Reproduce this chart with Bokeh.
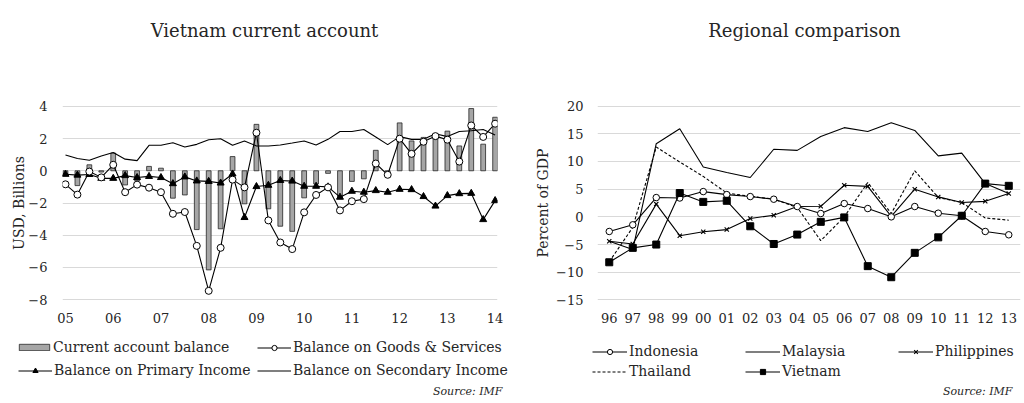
from bokeh.plotting import figure
from bokeh.models import Range1d, FactorRange, FixedTicker, Legend, LegendItem, Label
from bokeh.layouts import row, column
from bokeh.embed import file_html
from bokeh.resources import INLINE

FONT = "DejaVu Serif"
TEXT = "#262626"
NAN = float("nan")

# ---------------- Left chart data (quarterly, 2005Q1 .. 2014Q1) ----------------
quarters = list(range(37))
year_labels = ["05", "06", "07", "08", "09", "10", "11", "12", "13", "14"]
year_ticks = [4 * i for i in range(len(year_labels))]

current_account = [-0.3, -0.92, 0.37, -0.08, 1.1, -0.88, -0.62, 0.27, 0.16, -1.7,
                   -1.5, -3.65, -6.15, -3.6, 0.88, -2.05, 2.88, -2.36, -3.44, -3.76,
                   -1.68, -0.82, -0.16, -1.65, -0.66, -0.5, 1.27, -0.12, 2.97, 1.85,
                   2.07, 2.26, 2.46, 1.54, 3.86, 1.65, 3.32]
goods_services = [-0.84, -1.48, -0.05, -0.41, 0.37, -1.33, -0.86, -1.05, -1.33, -2.67,
                  -2.56, -4.66, -7.45, -4.78, -0.55, -1.03, 2.36, -3.08, -4.45, -4.86,
                  -2.58, -1.5, -1.03, -2.46, -1.89, -1.76, 0.45, -0.25, 1.99, 1.05,
                  1.8, 2.15, 1.93, 0.57, 2.81, 2.1, 2.92]
primary_income = [-0.22, -0.27, -0.23, -0.47, -0.47, -0.3, -0.42, -0.35, -0.42, -0.8,
                  -0.38, -0.63, -0.66, -0.76, -0.2, -2.9, -0.98, -0.9, -0.6, -0.64,
                  -0.96, -0.96, -1.0, -1.64, -1.27, -1.33, -1.23, -1.33, -1.15, -1.17,
                  -1.6, -2.19, -1.54, -1.42, -1.4, -3.03, -1.85]
secondary_income = [0.98, 0.76, 0.65, 0.92, 1.13, 0.72, 0.63, 1.58, 1.58, 1.74,
                    1.48, 1.64, 1.92, 1.99, 1.58, 1.85, 1.54, 1.54, 1.6, 1.72,
                    1.85, 1.6, 1.95, 2.44, 2.44, 2.56, 2.1, 1.62, 2.12, 1.95,
                    1.95, 2.3, 2.12, 2.44, 2.48, 2.56, 2.22]
usd_ticks = [-8, -6, -4, -2, 0, 2, 4]

# ---------------- Right chart data (annual, % of GDP) ----------------
years = ["96", "97", "98", "99", "00", "01", "02", "03", "04", "05",
         "06", "07", "08", "09", "10", "11", "12", "13"]
indonesia = [-2.64, -1.44, 3.48, 3.4, 4.56, 4.02, 3.66, 3.18, 1.86, 0.6,
             2.4, 1.5, 0.0, 1.86, 0.66, 0.2, -2.64, -3.24]
malaysia = [-4.4, -5.9, 13.2, 15.9, 9.0, 8.0, 7.1, 12.2, 12.0, 14.5,
            16.1, 15.4, 17.0, 15.6, 11.0, 11.5, 6.0, 4.2]
philippines = [-4.4, -4.9, 2.3, -3.4, -2.7, -2.3, -0.3, 0.3, 1.86, 1.9,
               5.7, 5.5, 0.1, 5.0, 3.6, 2.6, 2.8, 4.2]
thailand = [-8.1, -1.9, 12.6, 9.9, 7.3, 4.3, 3.7, 3.2, 1.7, -4.3,
            0.0, 6.2, 0.6, 8.3, 3.5, 2.6, -0.2, -0.6]
vietnam = [-8.2, -5.6, -5.0, 4.3, 2.7, 2.9, -1.7, -4.9, -3.2, -0.9,
           -0.1, -8.9, -10.9, -6.5, -3.7, 0.2, 6.0, 5.6]
pct_ticks = [-15, -10, -5, 0, 5, 10, 15, 20]

# ---------------- styles ----------------
BAR = dict(fill_color="#a6a6a6", line_color="#262626", line_width=0.8)
LINE = dict(line_color="black", line_width=1.1)
DASH = dict(line_color="black", line_width=1.1, line_dash="3 2")
TRI = dict(marker="triangle", fill_color="black", line_color="black")
CIRC = dict(marker="circle", fill_color="white", line_color="black")
CROSS = dict(marker="x", line_color="black", line_width=1.1)
SQUARE = dict(marker="square", fill_color="black", line_color="black")
KEY = 5  # marker size inside the legend keys


def blank(width, height):
    f = figure(width=width, height=height, output_backend="svg", toolbar_location=None,
               x_range=Range1d(0, width), y_range=Range1d(0, height),
               x_axis_location=None, y_axis_location=None, min_border=0)
    f.outline_line_color = None
    f.grid.visible = False
    if "frame_align" in f.properties():
        f.frame_align = False
    return f


def header(width, text, x):
    f = blank(width, 75)
    f.add_layout(Label(x=x, y=45, text=text, text_align="center", text_baseline="middle",
                       text_font=FONT, text_font_size="18px", text_color=TEXT))
    return f


def style(p):
    p.outline_line_color = None
    p.xgrid.visible = False
    p.ygrid.grid_line_color = "#d9d9d9"
    p.ygrid.grid_line_width = 1
    for ax in (p.xaxis[0], p.yaxis[0]):
        ax.axis_line_color = None
        ax.major_tick_line_color = None
        ax.minor_tick_line_color = None
        ax.major_tick_out = 0
        ax.major_tick_in = 0
        ax.minor_tick_out = 0
        ax.minor_tick_in = 0
        ax.major_label_text_font = FONT
        ax.major_label_text_font_size = "13px"
        ax.major_label_text_color = TEXT
        ax.axis_label_text_font = FONT
        ax.axis_label_text_font_size = "14px"
        ax.axis_label_text_font_style = "normal"
        ax.axis_label_text_color = TEXT


def make_legend(items, loc, glyph_width, label_width, glyph_height=13, standoff=2):
    return Legend(items=items, location=loc, orientation="horizontal",
                  padding=0, spacing=0, margin=0,
                  glyph_width=glyph_width, glyph_height=glyph_height,
                  label_standoff=standoff, label_width=label_width, label_height=20,
                  label_text_font=FONT, label_text_font_size="14px",
                  label_text_color=TEXT,
                  background_fill_alpha=0, border_line_alpha=0)


def source(f, x):
    f.add_layout(Label(x=x, y=10, text="Source: IMF", text_align="right",
                       text_baseline="middle", text_font=FONT, text_font_size="11px",
                       text_font_style="italic", text_color=TEXT))


# ================= Left chart =================
p1 = figure(width=512, height=258, output_backend="svg", toolbar_location=None,
            x_range=Range1d(-0.25, 36.2), y_range=Range1d(-8.05, 4.05),
            min_border_left=62, min_border_right=15,
            min_border_top=30, min_border_bottom=33)
style(p1)
p1.yaxis.ticker = FixedTicker(ticks=usd_ticks)
p1.yaxis.major_label_standoff = 15
p1.yaxis.axis_label = "USD, Billions"
p1.yaxis.axis_label_standoff = -2
p1.xaxis.ticker = FixedTicker(ticks=year_ticks)
p1.xaxis.major_label_overrides = {t: s for t, s in zip(year_ticks, year_labels)}
p1.xaxis.major_label_standoff = 12

p1.vbar(x=quarters, top=current_account, bottom=0, width=0.4, **BAR)
p1.line(quarters, secondary_income, **LINE)
p1.line(quarters, primary_income, **LINE)
p1.scatter(quarters, primary_income, size=7, **TRI)
p1.line(quarters, goods_services, **LINE)
p1.scatter(quarters, goods_services, size=7, **CIRC)

# legend strip: key renderers hold no visible data, only the series' styles
l1 = blank(512, 68)
k_bar = l1.vbar(x=[NAN], top=[NAN], width=0.4, **BAR)
k_gs_l = l1.line(x=[NAN], y=[NAN], **LINE)
k_gs_m = l1.scatter(x=[NAN], y=[NAN], size=KEY, **CIRC)
k_pri_l = l1.line(x=[NAN], y=[NAN], **LINE)
k_pri_m = l1.scatter(x=[NAN], y=[NAN], size=KEY, **TRI)
k_sec = l1.line(x=[NAN], y=[NAN], **LINE)
l1.add_layout(make_legend([LegendItem(label="Current account balance", renderers=[k_bar])],
                          (15, 44), 38, 180, glyph_height=8, standoff=0))
l1.add_layout(make_legend([LegendItem(label="Balance on Goods & Services", renderers=[k_gs_l, k_gs_m])],
                          (257, 44), 34, 180))
l1.add_layout(make_legend([LegendItem(label="Balance on Primary Income", renderers=[k_pri_l, k_pri_m]),
                           LegendItem(label="Balance on Secondary Income", renderers=[k_sec])],
                          (18, 21), 34, 203))
source(l1, 502)

# ================= Right chart =================
p2 = figure(width=510, height=258, output_backend="svg", toolbar_location=None,
            x_range=FactorRange(*years), y_range=Range1d(-15.1, 20.1),
            min_border_left=85, min_border_right=2,
            min_border_top=30, min_border_bottom=33)
style(p2)
p2.yaxis.ticker = FixedTicker(ticks=pct_ticks)
p2.yaxis.major_label_standoff = 14
p2.yaxis.axis_label = "Percent of GDP"
p2.yaxis.axis_label_standoff = 2
p2.xaxis.major_label_standoff = 12

p2.line(years, malaysia, **LINE)
p2.line(years, thailand, **DASH)
p2.line(years, philippines, **LINE)
p2.scatter(years, philippines, size=6, **CROSS)
p2.line(years, indonesia, **LINE)
p2.scatter(years, indonesia, size=6.5, **CIRC)
p2.line(years, vietnam, **LINE)
p2.scatter(years, vietnam, size=7, **SQUARE)

l2 = blank(510, 68)
k_ind_l = l2.line(x=[NAN], y=[NAN], **LINE)
k_ind_m = l2.scatter(x=[NAN], y=[NAN], size=KEY, **CIRC)
k_mal = l2.line(x=[NAN], y=[NAN], **LINE)
k_phi_l = l2.line(x=[NAN], y=[NAN], **LINE)
k_phi_m = l2.scatter(x=[NAN], y=[NAN], size=KEY, **CROSS)
k_tha = l2.line(x=[NAN], y=[NAN], **DASH)
k_vie_l = l2.line(x=[NAN], y=[NAN], **LINE)
k_vie_m = l2.scatter(x=[NAN], y=[NAN], size=KEY, **SQUARE)
l2.add_layout(make_legend([LegendItem(label="Indonesia", renderers=[k_ind_l, k_ind_m]),
                           LegendItem(label="Malaysia", renderers=[k_mal]),
                           LegendItem(label="Philippines", renderers=[k_phi_l, k_phi_m])],
                          (80, 40), 35, 116))
l2.add_layout(make_legend([LegendItem(label="Thailand", renderers=[k_tha]),
                           LegendItem(label="Vietnam", renderers=[k_vie_l, k_vie_m])],
                          (80, 20), 35, 116))
source(l2, 500)

left = column(header(512, "Vietnam current account", 264), p1, l1)
right = column(header(510, "Regional comparison", 292), p2, l2)
open("out.html", "w").write(file_html(row(left, right), INLINE, title="Vietnam current account"))
